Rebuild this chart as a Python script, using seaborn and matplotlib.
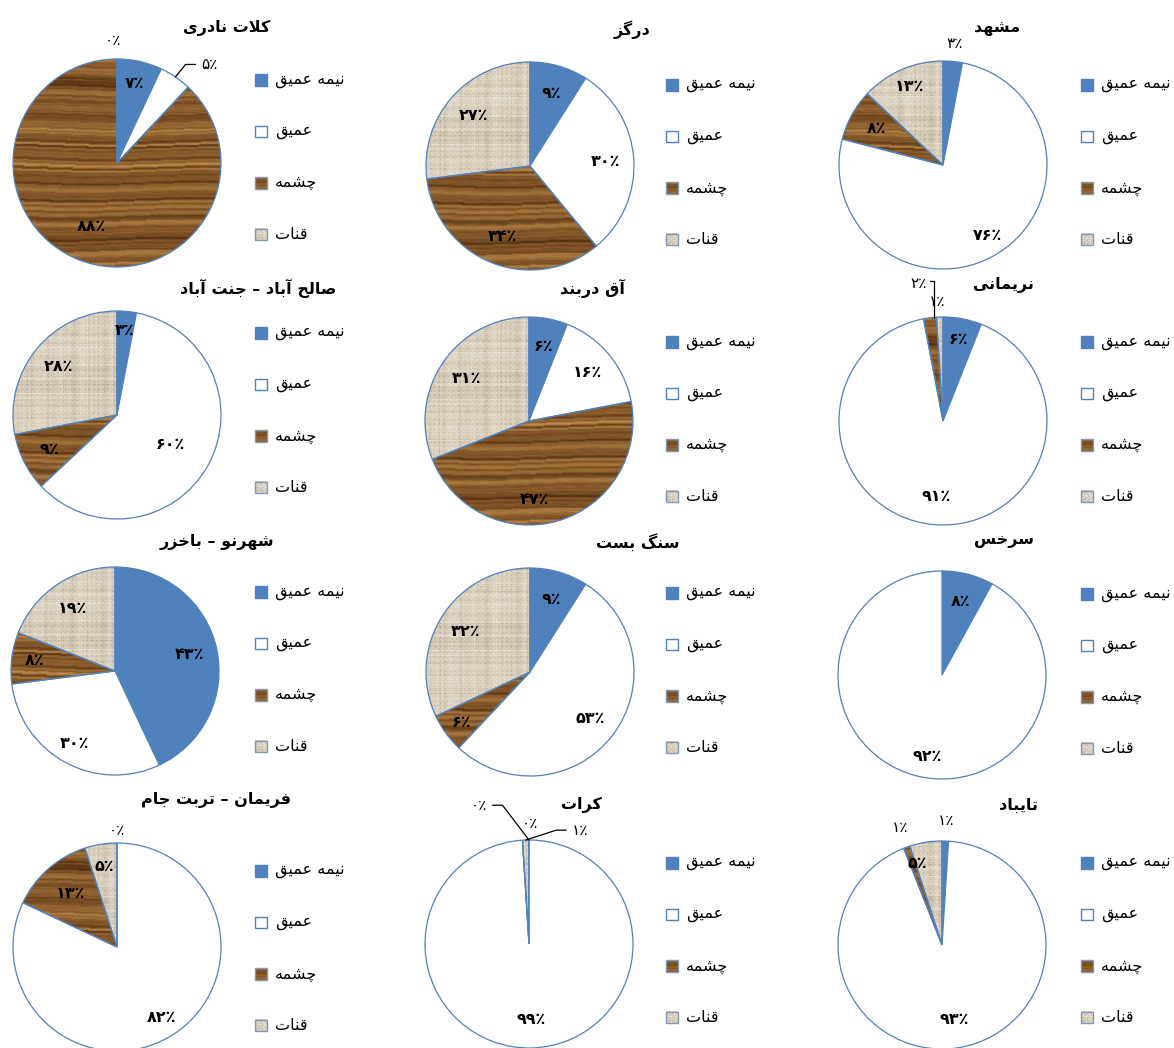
import numpy as np
import matplotlib
matplotlib.use("Agg")
import matplotlib.pyplot as plt
import seaborn as sns
from matplotlib.colors import LinearSegmentedColormap
from matplotlib.patches import Rectangle

# ---------------- data ----------------
stations = ["کلات نادری", "درگز", "مشهد",
            "صالح آباد – جنت آباد", "آق دربند", "نریمانی",
            "شهرنو – باخزر", "سنگ بست", "سرخس",
            "فریمان – تربت جام", "کرات", "تایباد"]
categories = ["نیمه عمیق", "عمیق", "چشمه", "قنات"]
semi_deep = [7, 9, 3, 3, 6, 6, 43, 9, 8, 0, 0, 1]
deep = [5, 30, 76, 60, 16, 91, 30, 53, 92, 82, 99, 93]
spring = [88, 34, 8, 9, 47, 2, 8, 6, None, 13, 0, 1]
qanat = [0, 27, 13, 28, 31, 1, 19, 32, None, 5, 1, 5]

# ---------------- Persian shaping (matplotlib has no complex text layout) ----------------
FORMS = {
    'ا': ('\uFE8D', '\uFE8E'), 'آ': ('\uFE81', '\uFE82'),
    'ب': ('\uFE8F', '\uFE90', '\uFE91', '\uFE92'), 'ت': ('\uFE95', '\uFE96', '\uFE97', '\uFE98'),
    'ج': ('\uFE9D', '\uFE9E', '\uFE9F', '\uFEA0'), 'چ': ('\uFB7A', '\uFB7B', '\uFB7C', '\uFB7D'),
    'ح': ('\uFEA1', '\uFEA2', '\uFEA3', '\uFEA4'), 'خ': ('\uFEA5', '\uFEA6', '\uFEA7', '\uFEA8'),
    'د': ('\uFEA9', '\uFEAA'), 'ر': ('\uFEAD', '\uFEAE'), 'ز': ('\uFEAF', '\uFEB0'),
    'س': ('\uFEB1', '\uFEB2', '\uFEB3', '\uFEB4'), 'ش': ('\uFEB5', '\uFEB6', '\uFEB7', '\uFEB8'),
    'ص': ('\uFEB9', '\uFEBA', '\uFEBB', '\uFEBC'), 'ع': ('\uFEC9', '\uFECA', '\uFECB', '\uFECC'),
    'ف': ('\uFED1', '\uFED2', '\uFED3', '\uFED4'), 'ق': ('\uFED5', '\uFED6', '\uFED7', '\uFED8'),
    'ک': ('\uFB8E', '\uFB8F', '\uFB90', '\uFB91'), 'گ': ('\uFB92', '\uFB93', '\uFB94', '\uFB95'),
    'ل': ('\uFEDD', '\uFEDE', '\uFEDF', '\uFEE0'), 'م': ('\uFEE1', '\uFEE2', '\uFEE3', '\uFEE4'),
    'ن': ('\uFEE5', '\uFEE6', '\uFEE7', '\uFEE8'), 'ه': ('\uFEE9', '\uFEEA', '\uFEEB', '\uFEEC'),
    'و': ('\uFEED', '\uFEEE'), 'ی': ('\uFBFC', '\uFBFD', '\uFBFE', '\uFBFF'),
}
LAM_ALEF = {'ا': ('\uFEFB', '\uFEFC'), 'آ': ('\uFEF5', '\uFEF6')}


def fa(text):
    """Join Persian letters into presentation forms and lay them out right-to-left."""
    text = text.replace('\u064A', 'ی').replace('\u0643', 'ک')
    chars = list(text)
    dual = lambda c: c in FORMS and len(FORMS[c]) == 4
    out, i = [], 0
    while i < len(chars):
        c = chars[i]
        prev = chars[i - 1] if i > 0 else None
        nxt = chars[i + 1] if i + 1 < len(chars) else None
        if c not in FORMS:
            out.append(c)
            i += 1
            continue
        cp = prev is not None and dual(prev)
        if c == 'ل' and nxt in LAM_ALEF:
            out.append(LAM_ALEF[nxt][1] if cp else LAM_ALEF[nxt][0])
            i += 2
            continue
        cn = nxt is not None and nxt in FORMS and dual(c)
        f = FORMS[c]
        if cp and cn:
            out.append(f[3])
        elif cp:
            out.append(f[1])
        elif cn:
            out.append(f[2])
        else:
            out.append(f[0])
        i += 1
    return ''.join(reversed(out))


def pct(v):
    return str(v).translate(str.maketrans('0123456789', '۰۱۲۳۴۵۶۷۸۹')) + '٪'


# ---------------- textures ----------------
N = 220
rng = np.random.default_rng(11)
yy, xx = np.mgrid[0:N, 0:N]

# wood grain: fine horizontal streaks
rows = rng.normal(size=N * 2)
rows = np.convolve(rows, np.array([1, 2, 1]) / 4.0, mode='same')
rows += 0.35 * np.sin(np.arange(N * 2) / 1.7) + 0.3 * np.sin(np.arange(N * 2) / 5.3)
shift = (yy + 1.5 * np.sin(xx / 37.0 + yy / 53.0)).astype(int) % (N * 2)
grain = rng.normal(size=(N, N))
grain = np.apply_along_axis(lambda r: np.convolve(r, np.ones(9) / 9, mode='same'), 1, grain)
wood_v = rows[shift] + 0.35 * grain
wood_v = (wood_v - wood_v.min()) / (wood_v.max() - wood_v.min())
wood_cmap = LinearSegmentedColormap.from_list(
    "wood", ["#45260c", "#68401b", "#86592a", "#a3733c", "#c09152"])
wood_img = wood_cmap(wood_v)[..., :3]

# burlap: woven threads
col_n = rng.normal(size=N)[None, :]
row_n = rng.normal(size=N)[:, None]
weave = np.cos(2 * np.pi * xx / 5.0) * np.cos(2 * np.pi * yy / 5.0)
burl_v = 0.5 + 0.14 * weave + 0.11 * col_n + 0.11 * row_n + 0.08 * rng.normal(size=(N, N))
burl_v = np.clip(burl_v, 0, 1)
burl_cmap = LinearSegmentedColormap.from_list("burlap", ["#b3a68f", "#d0c5b1", "#e0d8c8", "#f1ece2"])
burl_img = burl_cmap(burl_v)[..., :3]

BLUE = "#4F81BD"
fills = [BLUE, "white", wood_img, burl_img]

# ---------------- layout ----------------
W, H = 1174, 1048
R = 104
centers = [(117, 163), (530, 166), (943, 165),
           (117, 415), (529, 421), (943, 421),
           (115, 671), (530, 672), (942, 675),
           (117, 947), (529, 944), (942, 945)]
title_pos = [(227, 28), (632, 30), (997, 28),
             (258, 288), (593, 288), (1003, 285),
             (217, 542), (638, 542), (1004, 540),
             (216, 800), (581, 805), (1018, 805)]
legend_x = [261, 672, 1087]
legend_y0 = [80, 85, 85, 333, 342, 342, 592, 593, 594, 871, 863, 863]
legend_step = 51.5

# label placement: (radius factor, clockwise shift in degrees)
label_place = {
    (0, 0): (0.78, 0), (0, 1): (1.30, 9), (0, 2): (0.66, 0), (0, 3): (1.18, -2),
    (2, 0): (1.17, 0), (2, 1): (0.80, 0), (2, 3): (0.82, 0),
    (3, 0): (0.82, 0), (3, 1): (0.58, 0),
    (4, 2): (0.76, 12),
    (5, 0): (0.80, 0), (5, 2): (1.34, -3), (5, 3): (1.15, -1),
    (6, 1): (0.80, 0), (6, 2): (0.78, 0),
    (7, 2): (0.82, 0),
    (8, 1): (0.80, -4),
    (9, 0): (1.12, 0), (9, 1): (0.80, 0), (9, 2): (0.68, 0), (9, 3): (0.78, 0),
    (10, 0): (1.42, -20), (10, 2): (1.16, 4), (10, 3): (1.20, 26),
    (11, 0): (1.20, 0), (11, 2): (1.20, 0), (11, 3): (0.82, -8),
}
leaders = {(0, 1): 'left', (5, 2): 'bracket', (10, 0): 'right', (10, 3): 'left'}

sns.set_theme(style="white")
plt.rcParams['font.family'] = ['DejaVu Sans']

fig = plt.figure(figsize=(W / 100, H / 100), dpi=100)
ax = fig.add_axes([0, 0, 1, 1])


def Y(y):
    return H - y


for k, name in enumerate(stations):
    cx, cy = centers[k]
    cy = Y(cy)
    raw = [semi_deep[k], deep[k], spring[k], qanat[k]]
    idx = [j for j, v in enumerate(raw) if v is not None]
    vals = [raw[j] for j in idx]
    wedges, _ = ax.pie(vals, center=(cx, cy), radius=R, startangle=90, counterclock=False,
                       colors=["white"] * len(vals), frame=True,
                       wedgeprops=dict(edgecolor=BLUE, linewidth=0.9))
    for w, j in zip(wedges, idx):
        fill = fills[j]
        if isinstance(fill, str):
            w.set_facecolor(fill)
        else:
            w.set_facecolor("none")
            im = ax.imshow(fill, extent=[cx - R, cx + R, cy - R, cy + R],
                           interpolation='bilinear', zorder=0.5)
            im.set_clip_path(w)
        # percentage label
        fct, sh = label_place.get((k, j), (0.73, 0))
        mid = 0.5 * (w.theta1 + w.theta2)
        a = np.deg2rad(mid - sh)
        lx, ly = cx + fct * R * np.cos(a), cy + fct * R * np.sin(a)
        txt = pct(raw[j])
        inside = fct < 1
        ax.text(lx, ly, txt, ha='center', va='center', fontsize=11.5 if inside else 11,
                fontweight='bold' if inside else 'normal', color='black', zorder=5)
        lead = leaders.get((k, j))
        if lead:
            am = np.deg2rad(mid)
            ex, ey = cx + R * np.cos(am), cy + R * np.sin(am)
            hw = 5.5 * len(txt) + 3
            if lead == 'left':
                tx = lx - hw
                pts = [(ex, ey), (tx - 10, ly), (tx, ly)]
            elif lead == 'right':
                tx = lx + hw
                pts = [(ex, ey), (tx + 10, ly), (tx, ly)]
            else:
                tx = lx + hw
                pts = [(ex + 4, ey), (ex + 4, ly + 3), (tx - 2, ly + 3)]
            px, py = zip(*pts)
            ax.plot(px, py, color='black', lw=0.9, zorder=4)

    # title
    tx, ty = title_pos[k]
    ax.text(tx, Y(ty), fa(name), ha='center', va='center', fontsize=11.5,
            fontweight='bold', color='black')

    # legend
    lx0 = legend_x[k % 3]
    for j, cat in enumerate(categories):
        yc = Y(legend_y0[k] + j * legend_step)
        s = 11.5
        x0, y0 = lx0 - s / 2, yc - s / 2
        fill = fills[j]
        if isinstance(fill, str):
            ax.add_patch(Rectangle((x0, y0), s, s, facecolor=fill, edgecolor=BLUE, lw=1.0, zorder=3))
        else:
            ax.imshow(fill[40:52, 40:52], extent=[x0, x0 + s, y0, y0 + s],
                      interpolation='bilinear', zorder=2)
            ax.add_patch(Rectangle((x0, y0), s, s, facecolor='none',
                                   edgecolor="#7f97b8", lw=1.0, zorder=3))
        ax.text(lx0 + 14, yc, fa(cat), ha='left', va='center', fontsize=11.5, color='black')

ax.set_xlim(0, W)
ax.set_ylim(0, H)
ax.set_aspect('auto')
ax.axis('off')
fig.savefig("out.png", dpi=100, facecolor='white')
